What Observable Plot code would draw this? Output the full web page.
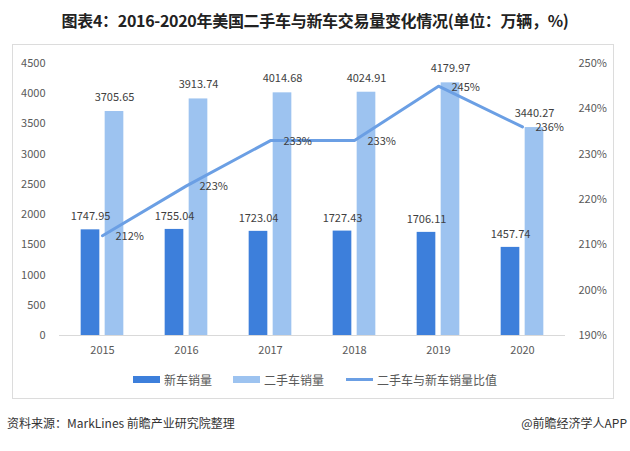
<!DOCTYPE html>
<html>
<head>
<meta charset="utf-8">
<script src="https://cdn.jsdelivr.net/npm/d3@7"></script>
<script src="https://cdn.jsdelivr.net/npm/@observablehq/plot@0.6"></script>
<style>
  html, body { margin: 0; padding: 0; background: #fff; }
  body { width: 630px; height: 451px; position: relative; overflow: hidden; font-family: "Noto Sans CJK SC", "Noto Sans", sans-serif; }
  #title { position: absolute; top: 6px; left: 0; width: 630px; text-align: center; font-size: 16px; font-weight: bold; color: #222; line-height: 28px; letter-spacing: -0.3px; }
  #frame { position: absolute; left: 12px; top: 44px; width: 602px; height: 355px; border: 1px solid #dcdcdc; box-sizing: border-box; }
  #chart { position: absolute; left: 0; top: 44px; }
  #legend { position: absolute; top: 369px; left: 0; width: 630px; height: 20px; font-size: 12px; color: #595959; }
  .item { position: absolute; top: 0; display: flex; align-items: center; height: 20px; }
  .sw { display: inline-block; width: 27px; margin-right: 4px; }
  #footer-left { position: absolute; left: 7px; top: 414px; font-size: 12px; color: #333; }
  #footer-right { position: absolute; right: 3px; top: 414px; font-size: 12px; color: #333; }
</style>
</head>
<body>
<div id="title">图表4：2016-2020年美国二手车与新车交易量变化情况(单位：万辆，%)</div>
<div id="frame"></div>
<div id="chart"></div>
<div id="legend"></div>
<div id="footer-left">资料来源：MarkLines 前瞻产业研究院整理</div>
<div id="footer-right">@前瞻经济学人APP</div>
<script>
const years = ["2015", "2016", "2017", "2018", "2019", "2020"];
const newCars = [1747.95, 1755.04, 1723.04, 1727.43, 1706.11, 1457.74];
const usedCars = [3705.65, 3913.74, 4014.68, 4024.91, 4179.97, 3440.27];
const ratioPct = [212, 223, 233, 233, 245, 236];
const leftTicks = [0, 500, 1000, 1500, 2000, 2500, 3000, 3500, 4000, 4500];
const rightTicks = [190, 200, 210, 220, 230, 240, 250];
const seriesNames = ["新车销量", "二手车销量", "二手车与新车销量比值"];

const colors = { dark: "#3d7fdb", light: "#9dc3f0", line: "#6b9fe4" };

// secondary axis mapping: 190%..250% onto 0..4500
const sec = d3.scaleLinear().domain([190, 250]).range([0, 4500]);

const data = years.map((y, i) => ({ year: y, n: newCars[i], u: usedCars[i], r: ratioPct[i], rm: sec(ratioPct[i]) }));

const bw = 506 / 6;
const half = bw / 2;

const chart = Plot.plot({
  width: 630,
  height: 320,
  marginLeft: 59,
  marginRight: 65,
  marginTop: 19,
  marginBottom: 29,
  style: { fontFamily: "'Noto Sans CJK SC', 'Noto Sans', sans-serif", fontSize: "11px", color: "#595959", background: "transparent" },
  x: { type: "band", domain: years, padding: 0, label: null },
  y: { domain: [0, 4500], label: null },
  marks: [
    Plot.axisY({ ticks: leftTicks, tickSize: 0, tickPadding: 14, tickFormat: d => String(d), fill: "#595959", fontSize: 11, label: null }),
    Plot.axisY({ anchor: "right", ticks: rightTicks.map(t => sec(t)), tickSize: 0, tickPadding: 13, tickFormat: d => Math.round(sec.invert(d)) + "%", fill: "#595959", fontSize: 11, label: null }),
    Plot.axisX({ tickSize: 0, tickPadding: 11, fill: "#595959", fontSize: 11, label: null }),
    Plot.ruleY([0], { stroke: "#d9d9d9", strokeWidth: 1 }),
    Plot.barY(data, { x: "year", y: "n", fill: colors.dark, insetLeft: half - 21.5, insetRight: half + 2.5 }),
    Plot.barY(data, { x: "year", y: "u", fill: colors.light, insetLeft: half + 2.5, insetRight: half - 21.5 }),
    Plot.lineY(data, { x: "year", y: "rm", stroke: colors.line, strokeWidth: 3 }),
    Plot.text(data, { x: "year", y: "n", text: d => d.n.toFixed(2), dx: -12, dy: -13, fill: "#404040", fontSize: 11 }),
    Plot.text(data, { x: "year", y: "u", text: d => d.u.toFixed(2), dx: 12, dy: -14, fill: "#404040", fontSize: 11 }),
    Plot.text(data, { x: "year", y: "rm", text: d => d.r + "%", dx: 13, dy: 1, textAnchor: "start", fill: "#404040", fontSize: 11 })
  ]
});
document.getElementById("chart").appendChild(chart);

// legend
const legend = document.getElementById("legend");
const legendItems = [
  { name: seriesNames[0], left: 133, type: "bar", color: colors.dark },
  { name: seriesNames[1], left: 233, type: "bar", color: colors.light },
  { name: seriesNames[2], left: 346, type: "line", color: colors.line }
];
legendItems.forEach(it => {
  const d = document.createElement("div");
  d.className = "item";
  d.style.left = it.left + "px";
  const s = document.createElement("span");
  s.className = "sw";
  s.style.background = it.color;
  s.style.height = it.type === "bar" ? "7px" : "3px";
  d.appendChild(s);
  const t = document.createElement("span");
  t.textContent = it.name;
  d.appendChild(t);
  legend.appendChild(d);
});
</script>
</body>
</html>
